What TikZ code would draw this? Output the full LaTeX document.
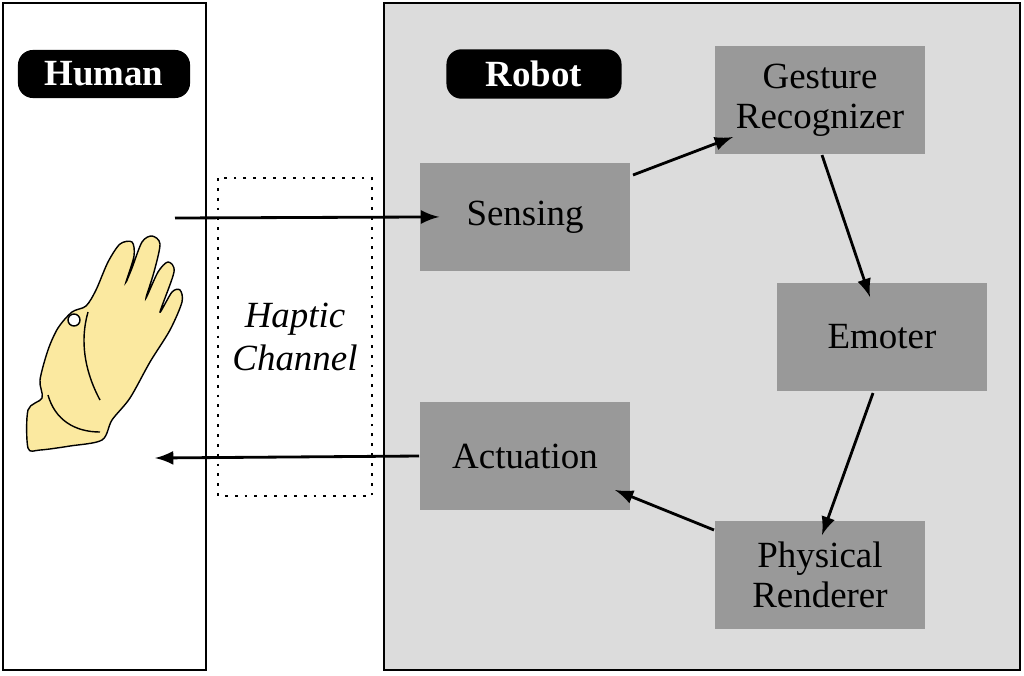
\documentclass[tikz,border=0pt]{standalone}
\usepackage{fontspec}
\setmainfont{Liberation Serif}
\usetikzlibrary{positioning}
\definecolor{robotgray}{RGB}{220,220,220}
\definecolor{blockgray}{RGB}{153,153,153}
\definecolor{handyellow}{RGB}{251,233,160}
\tikzset{
  block/.style={fill=blockgray, minimum width=2.1cm, minimum height=1.08cm, align=center, font=\fontsize{10.5}{11.5}\selectfont},
  tag/.style={fill=black, text=white, rounded corners=0.15cm, font=\bfseries\fontsize{10.5}{12}\selectfont, minimum height=0.48cm},
  flow/.style={-latex, thick, shorten >=-0.2cm}
}
\begin{document}
\begin{tikzpicture}[x=0.01cm,y=-0.01cm]
  \useasboundingbox (0,0) rectangle (1024,675);
  \draw[thick] (3,3) rectangle (206,670);                          % human side
  \draw[thick, fill=robotgray] (384,3) rectangle (1020,670);       % robot side
  \draw[thick, dotted] (218,178) rectangle (372,496);              % channel
  \node[tag, minimum width=1.72cm] (human) at (104,74) {Human};
  \node[tag, minimum width=1.75cm] (robot) at (534,74) {Robot};
  \node[align=center, font=\itshape\fontsize{10.5}{12}\selectfont] (haptic) at (295,337) {Haptic\\Channel};

  \node[block] (sensing) at (525,217) {Sensing};
  \node[block] (gesture) at (820,100) {Gesture\\Recognizer};
  \node[block] (emoter) at (882,337) {Emoter};
  \node[block] (physical) at (820,575) {Physical\\Renderer};
  \node[block] (actuation) at (525,456) {Actuation};

  % hand
  \draw[fill=handyellow, thin] plot[smooth cycle, tension=0.5] coordinates {
    (28,448) (28,410) (42,398) (40,380) (48,350) (58,328) (72,312) (86,306)
    (96,290) (108,262) (120,244) (132,242) (134,256) (126,282) (132,268) (142,242)
    (152,236) (160,244) (154,272) (146,298) (158,272) (168,262) (174,272) (160,312)
    (172,292) (180,290) (182,302) (170,330) (150,362) (130,398) (112,420) (102,440)
    (70,446) (40,450)};
  \draw[thin] (48,395) .. controls (55,420) and (75,432) .. (100,432);
  \draw[thin] (88,312) .. controls (80,340) and (84,370) .. (100,400);
  \draw[thin, fill=white] (74,320) circle (6);

  \coordinate (handin) at (175,218);
  \coordinate (handout) at (155,458);
  \draw[flow] (handin) -- (sensing.west);
  \draw[flow, shorten >=0cm] (actuation.west) -- (handout);
  \draw[flow, shorten >=0cm] (633,175) -- (733,137);
  \draw[flow, shorten >=0cm] (822,155) -- (870,297);
  \draw[flow, shorten >=0cm] (873,393) -- (822,535);
  \draw[flow, shorten >=0cm] (714,530) -- (615,490);
\end{tikzpicture}
\end{document}
